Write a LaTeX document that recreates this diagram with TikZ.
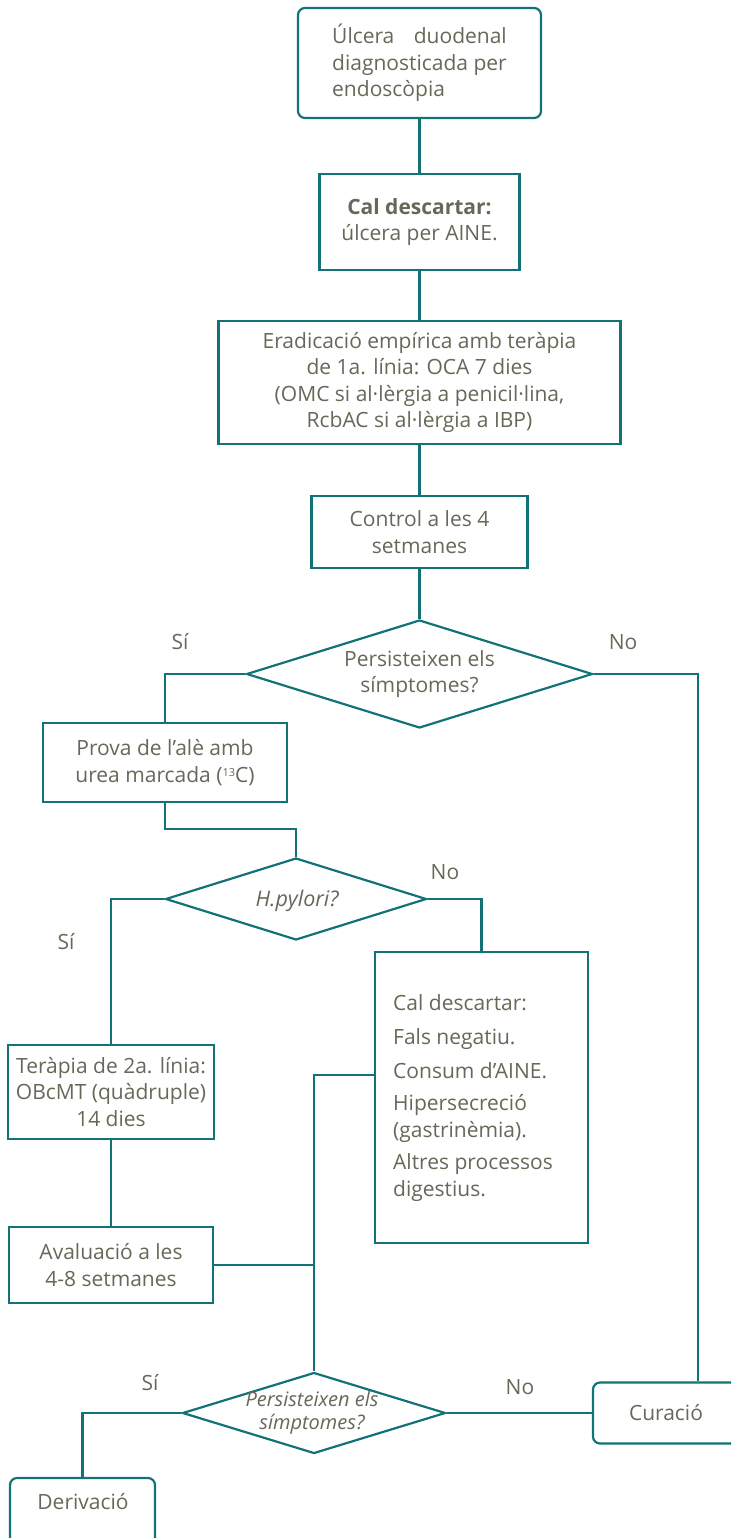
\documentclass[tikz,border=0pt]{standalone}
\usepackage{fontspec}
\setmainfont{Open Sans}
\usepackage{calc}
\usetikzlibrary{shapes.geometric}
\definecolor{lineteal}{RGB}{18,114,118}
\definecolor{txtgrey}{RGB}{104,104,88}
\begin{document}
\begin{tikzpicture}[x=1pt,y=-1pt,
  box/.style={draw=lineteal, line width=2.2pt, fill=white, text=txtgrey, inner sep=0pt,
    align=center, font=\fontsize{21}{26.5}\selectfont},
  rbox/.style={box, rounded corners=7pt},
  dia/.style={diamond, draw=lineteal, line width=2.2pt, fill=white, inner sep=0pt},
  conn/.style={draw=lineteal, line width=2.2pt},
  lbl/.style={text=txtgrey, align=center, inner sep=0pt, font=\fontsize{21}{26.5}\selectfont},
  ilbl/.style={lbl, font=\fontsize{20}{23.5}\selectfont\itshape}
]
\useasboundingbox (0,0) rectangle (731,1538);
\clip (0,0) rectangle (731,1538);

% boxes
\node[rbox, minimum width=243, minimum height=110, align=left] (b1) at (419.5,63)
  {\makebox[\widthof{diagnosticada per}][s]{Úlcera duodenal}\\diagnosticada per\\endoscòpia};
\node[box, minimum width=200, minimum height=96] (b2) at (419.5,222)
  {\textbf{Cal descartar:}\\úlcera per AINE.};
\node[box, minimum width=402, minimum height=123] (b3) at (419.5,382.5)
  {Eradicació empírica amb teràpia\\de 1a. línia: OCA 7 dies\\(OMC si al·lèrgia a penicil·lina,\\RcbAC si al·lèrgia a IBP)};
\node[box, minimum width=216, minimum height=72] (b4) at (419.5,532)
  {Control a les 4\\setmanes};
\node[dia, minimum width=346, minimum height=108] (d1) at (419.5,674) {};
\node[lbl] (d1t) at (419.5,674) {Persisteixen els\\símptomes?};

\node[box, minimum width=244, minimum height=79] (b5) at (165,762.5)
  {Prova de l’alè amb\\urea marcada ({\fontsize{11}{11}\selectfont\raisebox{6pt}{13}}C)};
\node[dia, minimum width=261, minimum height=82] (d2) at (296,899) {};
\node[ilbl, font=\fontsize{21.5}{24}\selectfont\itshape] (d2t) at (297,901) {H.pylori?};

\node[box, minimum width=213, minimum height=291] (b6) at (481.5,1097.5) {};
\node[lbl, anchor=west, align=left, font=\fontsize{21}{27}\selectfont] (b6t) at (393,1098.5)
  {Cal descartar:\\[7pt]Fals negatiu.\\[7pt]Consum d’AINE.\\[5pt]Hipersecreció\\(gastrinèmia).\\[5pt]Altres processos\\digestius.};

\node[box, minimum width=206, minimum height=94] (b7) at (111,1092)
  {Teràpia de 2a. línia:\\OBcMT (quàdruple)\\14 dies};
\node[box, minimum width=204, minimum height=76] (b8) at (111,1265)
  {Avaluació a les\\4-8 setmanes};

\node[dia, minimum width=263, minimum height=81] (d3) at (314,1413) {};
\node[ilbl] (d3t) at (312,1413) {Persisteixen els\\símptomes?};

\node[rbox, minimum width=145, minimum height=82] (b9) at (82.5,1519) {};
\node[lbl] (b9t) at (83,1502) {Derivació};
\node[rbox, minimum width=210, minimum height=61] (b10) at (698,1413) {};
\node[lbl] (b10t) at (666,1413) {Curació};

% labels
\node[lbl] (l1) at (180,642) {Sí};
\node[lbl] (l2) at (623,642) {No};
\node[lbl] (l3) at (445,872) {No};
\node[lbl] (l4) at (66,942) {Sí};
\node[lbl] (l5) at (150,1383) {Sí};
\node[lbl] (l6) at (520,1387) {No};

% connectors
\coordinate (j1) at (314,1075);
\draw[conn] (b1.south) -- (b2.north);
\draw[conn] (b2.south) -- (b3.north);
\draw[conn] (b3.south) -- (b4.north);
\draw[conn] (b4.south) -- (d1.north);
\draw[conn] (d1.west) -| (b5.north);
\draw[conn] (b5.south) -- ++(0,26) -| (d2.north);
\draw[conn] (d2.east) -| (b6.north);
\draw[conn] (d2.west) -| (b7.north);
\draw[conn] (b7.south) -- (b8.north);
\draw[conn] (b6.west |- j1) -- (j1) -- (d3.north);
\draw[conn] (b8.east) -- (b8.east -| j1);
\draw[conn] (d3.west) -| (b9.north);
\draw[conn] (d3.east) -- (b10.west);
\draw[conn] (d1.east) -| (b10.north);
\end{tikzpicture}
\end{document}
